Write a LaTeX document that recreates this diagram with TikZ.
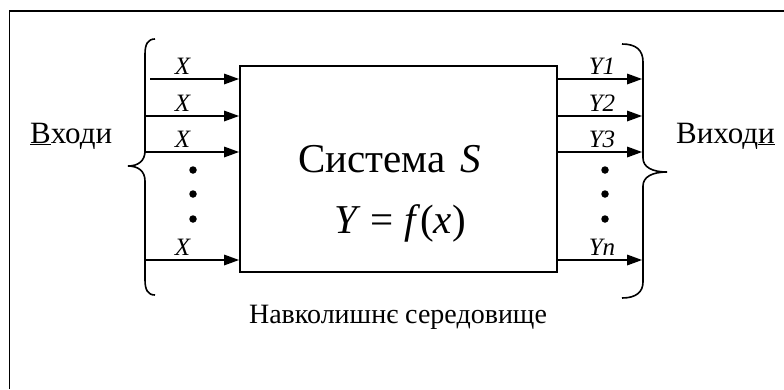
\documentclass[tikz,border=0pt]{standalone}
\usepackage{fontspec}
\setmainfont{Liberation Serif}
\newfontfamily\tnr{Liberation Serif}
\tikzset{
  conn/.style={line width=1.6pt},
  dotn/.style={circle, fill, inner sep=0pt, minimum size=7.5pt},
  brc/.style={line width=1.6pt},
}
\begin{document}
\begin{tikzpicture}[x=1pt,y=-1pt]
\useasboundingbox (0,0) rectangle (784,389);
% outer frame (only top and left edges are visible)
\draw[line width=1.6pt] (9.5,389) -- (9.5,11) -- (784,11);
% system box
\node[draw, line width=2pt, minimum width=317pt, minimum height=206pt, inner sep=0pt] (box) at (398.5,169) {};
\node[anchor=base west, inner sep=0pt, font=\tnr\fontsize{41}{48}\selectfont] (sys) at (298,172) {Система};
\node[anchor=base west, inner sep=0pt, font=\tnr\fontsize{41}{48}\selectfont] (sS) at (460,172) {\textit{S}};
\node[anchor=base, inner sep=0pt, font=\tnr\fontsize{41}{48}\selectfont] (fx) at (400,233) {\textit{Y} = \textit{f}(\textit{x})};
% inputs
\coordinate (i1) at (150,79);
\coordinate (i2) at (145,116);
\coordinate (i3) at (145,152);
\coordinate (i4) at (145,260);
\foreach \n in {1,2,3,4} {
  \draw[conn] (i\n) -- ([xshift=-12pt]i\n -| box.west);
  \fill (i\n -| box.west) -- ++(-15,-5.5) -- ++(0,11) -- cycle;
}
\node[anchor=base, inner sep=0pt, font=\tnr\fontsize{25}{30}\selectfont] (x1) at (183,74) {\textit{X}};
\node[anchor=base, inner sep=0pt, font=\tnr\fontsize{25}{30}\selectfont] (x2) at (183,111) {\textit{X}};
\node[anchor=base, inner sep=0pt, font=\tnr\fontsize{25}{30}\selectfont] (x3) at (183,147) {\textit{X}};
\node[anchor=base, inner sep=0pt, font=\tnr\fontsize{25}{30}\selectfont] (x4) at (183,255) {\textit{X}};
\node[dotn] (ld1) at (193,170) {};
\node[dotn] (ld2) at (193,194) {};
\node[dotn] (ld3) at (193,219) {};
% outputs
\coordinate (o1) at (642,79);
\coordinate (o2) at (642,116);
\coordinate (o3) at (642,152);
\coordinate (o4) at (642,260);
\foreach \n in {1,2,3,4} {
  \draw[conn] (o\n -| box.east) -- ([xshift=-12pt]o\n);
  \fill (o\n) -- ++(-15,-5.5) -- ++(0,11) -- cycle;
}
\node[anchor=base, inner sep=0pt, font=\tnr\fontsize{25}{30}\selectfont] (y1) at (602,74) {\textit{Y1}};
\node[anchor=base, inner sep=0pt, font=\tnr\fontsize{25}{30}\selectfont] (y2) at (602,111) {\textit{Y2}};
\node[anchor=base, inner sep=0pt, font=\tnr\fontsize{25}{30}\selectfont] (y3) at (602,147) {\textit{Y3}};
\node[anchor=base, inner sep=0pt, font=\tnr\fontsize{25}{30}\selectfont] (y4) at (602,255) {\textit{Yn}};
\node[dotn] (rd1) at (605,170) {};
\node[dotn] (rd2) at (605,194) {};
\node[dotn] (rd3) at (605,219) {};
% braces
\draw[brc] (155,39) .. controls (148,39) and (145,44) .. (145,54) -- (145,151)
  .. controls (145,161) and (138,166) .. (128,166)
  .. controls (138,166) and (145,171) .. (145,181) -- (145,280)
  .. controls (145,290) and (148,295) .. (155,295);
\draw[brc] (622,44) .. controls (636,44) and (643,50) .. (643,62) -- (643,158)
  .. controls (643,167) and (652,172) .. (667,172)
  .. controls (652,172) and (643,177) .. (643,186) -- (643,282)
  .. controls (643,292) and (636,298) .. (622,298);
% labels
\node[anchor=base west, inner sep=0pt, font=\tnr\fontsize{31}{36}\selectfont] (inp) at (30,143) {\underline{В}ходи};
\node[anchor=base west, inner sep=0pt, font=\tnr\fontsize{31}{36}\selectfont] (outp) at (676,143) {Виход\underline{и}};
\node[anchor=base, inner sep=0pt, font=\tnr\fontsize{28}{33}\selectfont] (env) at (398,323) {Навколишнє середовище};
\end{tikzpicture}
\end{document}
